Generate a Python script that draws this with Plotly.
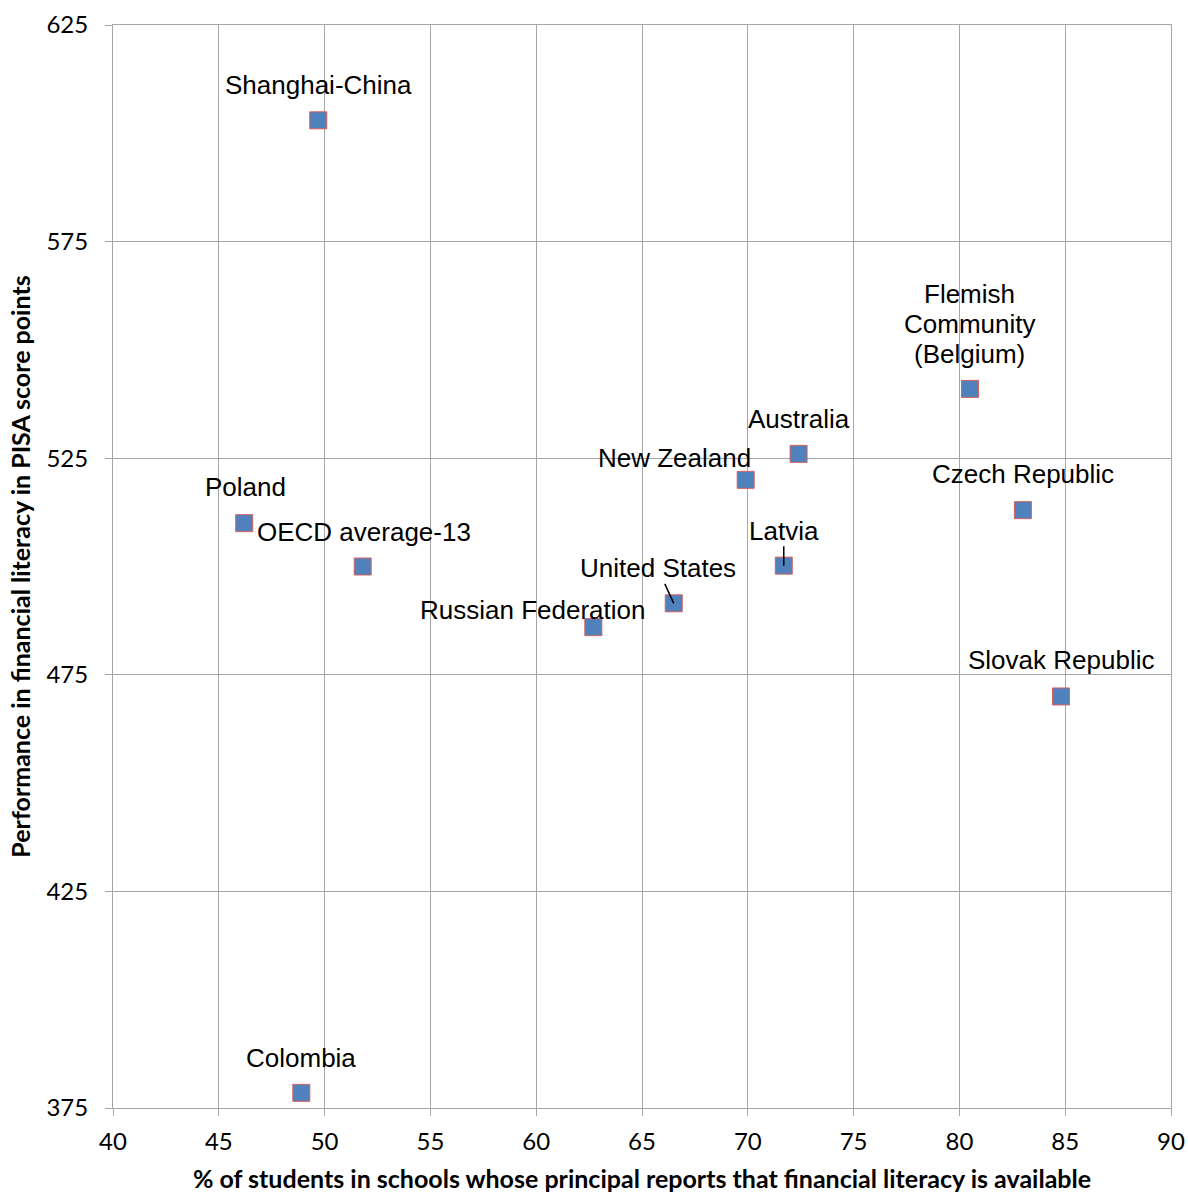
import plotly.graph_objects as go

# Share of students whose principal reports financial literacy is available (%)
countries = [
    "Shanghai-China", "Colombia", "Poland", "OECD average-13",
    "Russian Federation", "United States", "New Zealand", "Australia",
    "Latvia", "Flemish<br>Community<br>(Belgium)", "Czech Republic",
    "Slovak Republic",
]
pct_available = [49.7, 48.9, 46.2, 51.8, 62.7, 66.5, 69.9, 72.4, 71.7, 80.5, 83.0, 84.8]
# Mean performance in financial literacy (PISA score points)
fin_lit_score = [603, 378.5, 510, 500, 486, 491.5, 520, 526, 500.2, 541, 513, 470]

# Label offsets (pixels) relative to each marker; leader flag draws a line
label_dx = [0, 0, 1, 1, -61, -16, -71, 0, 0, 0, 0, 0]
label_dy = [35, 35, 36, 35, 17, 35, 22, 35, 35, 35, 36, 36]
leader = [False, False, False, False, False, True, False, False, True, False, False, False]

GRID = "#A6A6A6"
TICK_FONT = "Lato, Carlito, sans-serif"
LABEL_FONT = dict(family="Liberation Sans, Arial, sans-serif", size=26, color="#000000")
LINE_GAP = 30  # spacing between lines of a multi-line label

fig = go.Figure()
fig.add_trace(go.Scatter(
    x=pct_available, y=fin_lit_score, mode="markers",
    marker=dict(symbol="square", size=17, color="#4F81BD",
                line=dict(color="#D9605C", width=1)),
    hoverinfo="skip", showlegend=False,
))

for name, x, y, dx, dy, ld in zip(countries, pct_available, fin_lit_score,
                                  label_dx, label_dy, leader):
    if ld:
        fig.add_annotation(
            x=x, y=y, text=name, showarrow=True, ax=dx, ay=-dy,
            arrowhead=0, arrowwidth=1.5, arrowcolor="#000000",
            standoff=0, startstandoff=0, borderpad=0, font=LABEL_FONT,
        )
    else:
        lines = name.split("<br>")
        for i, line in enumerate(lines):
            fig.add_annotation(
                x=x, y=y, text=line, showarrow=False,
                xshift=dx, yshift=dy + (len(lines) - 1 - i) * LINE_GAP,
                font=LABEL_FONT,
            )

axis_common = dict(
    showgrid=True, gridcolor=GRID, gridwidth=1,
    showline=True, linecolor=GRID, linewidth=1, mirror=True,
    ticks="outside", ticklen=7, tickcolor=GRID,
    tickfont=dict(family=TICK_FONT, size=24, color="#000000"),
    zeroline=False, automargin=False,
)

fig.update_xaxes(
    range=[40, 90], dtick=5, tick0=40, ticklabelstandoff=5, **axis_common,
    title=dict(text="<b>% of students in schools whose principal reports that financial literacy is available</b>",
               font=dict(family=TICK_FONT, size=25, color="#000000"),
               standoff=17),
)
fig.update_yaxes(
    range=[375, 625], dtick=50, tick0=375, ticklabelstandoff=12, **axis_common,
    title=dict(text="<b>Performance in financial literacy in PISA score points</b>",
               font=dict(family=TICK_FONT, size=25, color="#000000"),
               standoff=8),
)

fig.update_layout(
    width=1188, height=1193,
    margin=dict(l=113, r=17, t=25, b=85),
    paper_bgcolor="white", plot_bgcolor="white",
)

fig.write_html("out.html")
